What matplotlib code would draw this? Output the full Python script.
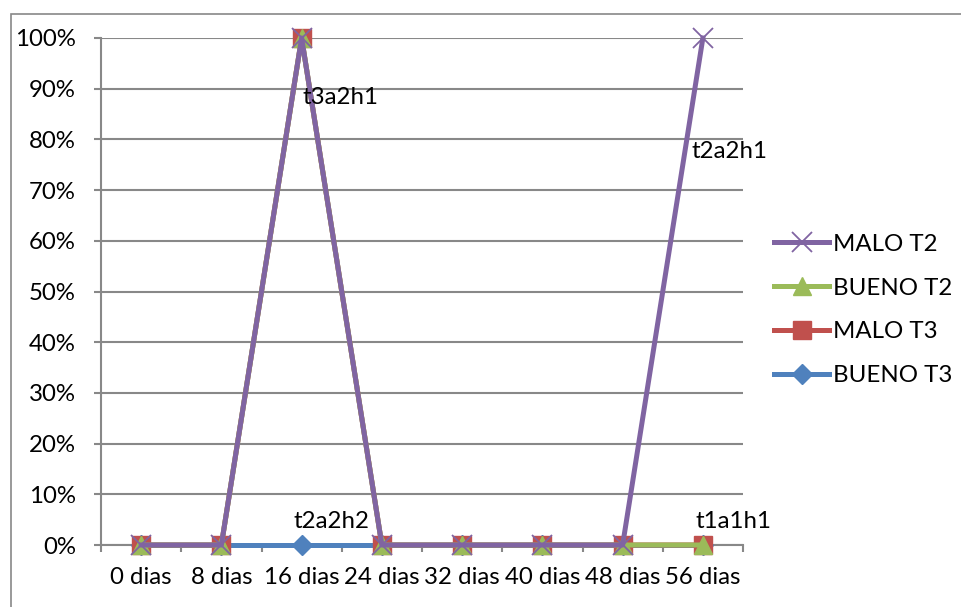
import numpy as np
import matplotlib.pyplot as plt
from matplotlib.patches import Rectangle

plt.rcParams['font.family'] = ['Lato', 'DejaVu Sans']

dias = ["0 dias", "8 dias", "16 dias", "24 dias", "32 dias", "40 dias", "48 dias", "56 dias"]
bueno_t3 = [0, 0, 0, 0, 0, 0, 0, 0]
malo_t3 = [0, 0, 1, 0, 0, 0, 0, 0]
bueno_t2 = [0, 0, 1, 0, 0, 0, 0, 0]
malo_t2 = [0, 0, 1, 0, 0, 0, 0, 1]

# data labels: (series values, category index, text, offset in px, +up)
labels = [
    (malo_t3, 2, "t3a2h1", (1, -60)),
    (malo_t2, 7, "t2a2h1", (-11, -114)),
    (bueno_t3, 2, "t2a2h2", (-8, 24)),
    (bueno_t2, 7, "t1a1h1", (-7, 23)),
]

FS = 17.3
x = np.arange(len(dias))

fig = plt.figure(figsize=(9.61, 6.07), dpi=100)
ax = fig.add_axes([101 / 961, 1 - 545 / 607, 642 / 961, 507 / 607])

# outer chart-area frame
fig.patches.append(Rectangle((11 / 961, -0.1), 1.2, 1 - 14 / 607 + 0.1,
                             transform=fig.transFigure, fill=False,
                             edgecolor="#888888", linewidth=1.2))

ax.plot(x, bueno_t3, color="#4F81BD", lw=3.6, marker="D", ms=10,
        label="BUENO T3", zorder=3, clip_on=False)
ax.plot(x, malo_t3, color="#C0504D", lw=3.6, marker="s", ms=12.5,
        label="MALO T3", zorder=4, clip_on=False)
ax.plot(x, bueno_t2, color="#9BBB59", lw=3.6, marker="^", ms=12.5,
        label="BUENO T2", zorder=5, clip_on=False)
ax.plot(x, malo_t2, color="#8064A2", lw=3.6, marker="x", ms=15, mew=1.3,
        label="MALO T2", zorder=6, clip_on=False)

for vals, i, txt, (dx, dy) in labels:
    ax.annotate(txt, xy=(x[i], vals[i]), xytext=(dx * 0.72, dy * 0.72),
                textcoords="offset points", ha="left", va="center",
                fontsize=FS, zorder=10)

ax.set_xlim(-0.5, len(dias) - 0.5)
ax.set_ylim(0, 1)
ax.set_yticks(np.arange(0, 1.01, 0.1))
ax.set_yticklabels([f"{int(round(v * 100))}%" for v in np.arange(0, 1.01, 0.1)])
ax.set_xticks(x)
ax.set_xticklabels(dias)
ax.set_xticks(np.arange(-0.5, len(dias)), minor=True)

ax.grid(axis="y", color="#888888", lw=1.5)
ax.set_axisbelow(True)
for s in ["top", "right"]:
    ax.spines[s].set_visible(False)
for s in ["left", "bottom"]:
    ax.spines[s].set_color("#888888")
    ax.spines[s].set_linewidth(1.5)

ax.tick_params(axis="y", length=5, width=1.5, color="#888888", pad=13,
               labelsize=FS)
ax.tick_params(axis="x", which="major", length=0, pad=16, labelsize=FS)
ax.tick_params(axis="x", which="minor", length=5, width=1.5, color="#888888")

h, l = ax.get_legend_handles_labels()
ax.legend(h[::-1], l[::-1], loc="center left",
          bbox_to_anchor=(774 / 961, 1 - 310 / 607),
          bbox_transform=fig.transFigure, frameon=False, fontsize=FS,
          handlelength=2.3, handletextpad=0.15, labelspacing=0.95,
          borderpad=0, borderaxespad=0)

fig.savefig("out.png", dpi=100)
